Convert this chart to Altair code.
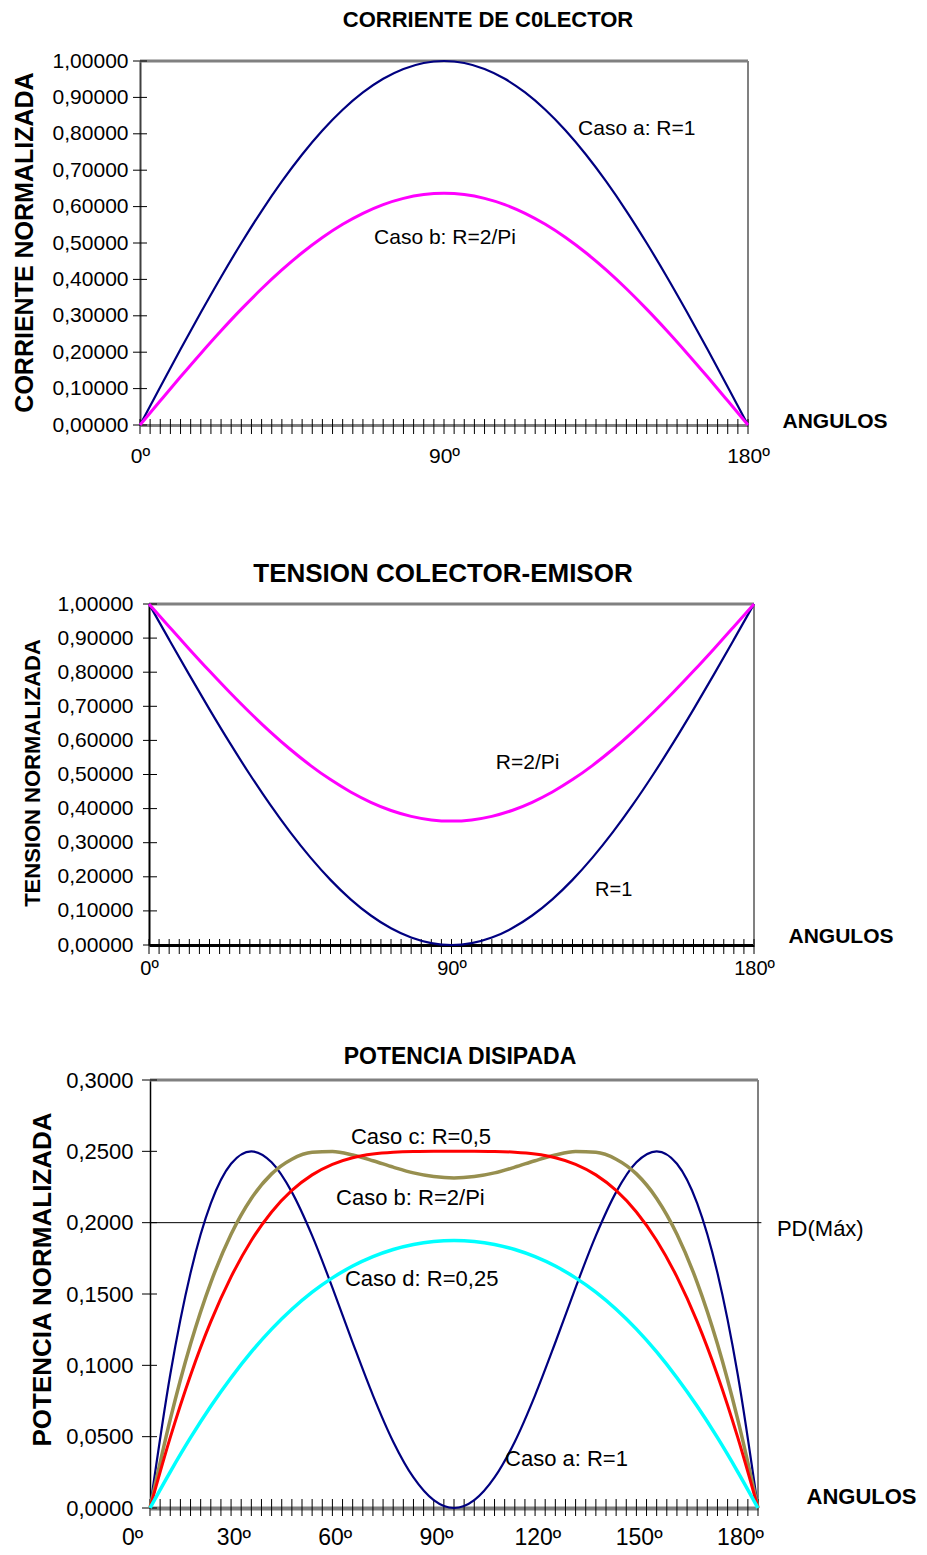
import altair as alt
import pandas as pd

FONT = "Liberation Sans, Arial, Helvetica, sans-serif"

# ---------------- data ----------------
ANG = [0, 6, 12, 18, 24, 30, 36, 42, 48, 54, 60, 66, 72, 78, 84, 90,
       96, 102, 108, 114, 120, 126, 132, 138, 144, 150, 156, 162, 168, 174, 180]

# Corriente de colector
I_R1 = [0.0000, 0.1045, 0.2079, 0.3090, 0.4067, 0.5000, 0.5878, 0.6691, 0.7431, 0.8090, 0.8660,
        0.9135, 0.9511, 0.9781, 0.9945, 1.0000, 0.9945, 0.9781, 0.9511, 0.9135, 0.8660, 0.8090,
        0.7431, 0.6691, 0.5878, 0.5000, 0.4067, 0.3090, 0.2079, 0.1045, 0.0000]
I_R2PI = [0.0000, 0.0665, 0.1324, 0.1967, 0.2589, 0.3183, 0.3742, 0.4260, 0.4731, 0.5150, 0.5513,
          0.5815, 0.6055, 0.6227, 0.6331, 0.6366, 0.6331, 0.6227, 0.6055, 0.5815, 0.5513, 0.5150,
          0.4731, 0.4260, 0.3742, 0.3183, 0.2589, 0.1967, 0.1324, 0.0665, 0.0000]

# Tension colector-emisor
V_R1 = [1.0000, 0.8955, 0.7921, 0.6910, 0.5933, 0.5000, 0.4122, 0.3309, 0.2569, 0.1910, 0.1340,
        0.0865, 0.0489, 0.0219, 0.0055, 0.0000, 0.0055, 0.0219, 0.0489, 0.0865, 0.1340, 0.1910,
        0.2569, 0.3309, 0.4122, 0.5000, 0.5933, 0.6910, 0.7921, 0.8955, 1.0000]
V_R2PI = [1.0000, 0.9335, 0.8676, 0.8033, 0.7411, 0.6817, 0.6258, 0.5740, 0.5269, 0.4850, 0.4487,
          0.4185, 0.3945, 0.3773, 0.3669, 0.3634, 0.3669, 0.3773, 0.3945, 0.4185, 0.4487, 0.4850,
          0.5269, 0.5740, 0.6258, 0.6817, 0.7411, 0.8033, 0.8676, 0.9335, 1.0000]

# Potencia disipada
P_A = [0.0000, 0.0936, 0.1647, 0.2135, 0.2413, 0.2500, 0.2423, 0.2214, 0.1909, 0.1545, 0.1160,
       0.0790, 0.0465, 0.0214, 0.0055, 0.0000, 0.0055, 0.0214, 0.0465, 0.0790, 0.1160, 0.1545,
       0.1909, 0.2214, 0.2423, 0.2500, 0.2413, 0.2135, 0.1647, 0.0936, 0.0000]
P_B = [0.0000, 0.0621, 0.1149, 0.1580, 0.1919, 0.2170, 0.2342, 0.2445, 0.2493, 0.2498, 0.2474,
       0.2434, 0.2389, 0.2349, 0.2323, 0.2313, 0.2323, 0.2349, 0.2389, 0.2434, 0.2474, 0.2498,
       0.2493, 0.2445, 0.2342, 0.2170, 0.1919, 0.1580, 0.1149, 0.0621, 0.0000]
P_C = [0.0000, 0.0495, 0.0931, 0.1306, 0.1620, 0.1875, 0.2075, 0.2226, 0.2335, 0.2409, 0.2455,
       0.2481, 0.2494, 0.2499, 0.2500, 0.2500, 0.2500, 0.2499, 0.2494, 0.2481, 0.2455, 0.2409,
       0.2335, 0.2226, 0.2075, 0.1875, 0.1620, 0.1306, 0.0931, 0.0495, 0.0000]
P_D = [0.0000, 0.0254, 0.0493, 0.0713, 0.0913, 0.1094, 0.1254, 0.1393, 0.1513, 0.1613, 0.1696,
       0.1762, 0.1812, 0.1847, 0.1868, 0.1875, 0.1868, 0.1847, 0.1812, 0.1762, 0.1696, 0.1613,
       0.1513, 0.1393, 0.1254, 0.1094, 0.0913, 0.0713, 0.0493, 0.0254, 0.0000]
PD_MAX = 0.2

# axis ticks / labels
X_MINOR = list(range(0, 181, 3))
X_LAB_12 = [0, 90, 180]
X_LAB_3 = [0, 30, 60, 90, 120, 150, 180]
Y_T12 = [0.0, 0.1, 0.2, 0.3, 0.4, 0.5, 0.6, 0.7, 0.8, 0.9, 1.0]
Y_T3 = [0.0, 0.05, 0.10, 0.15, 0.20, 0.25, 0.30]

# annotations
TXT1 = ["Caso a: R=1", "Caso b: R=2/Pi"]
TXT1_A = [129.7, 69.3]
TXT1_V = [0.813, 0.514]
TXT2 = ["R=2/Pi", "R=1"]
TXT2_A = [103.2, 132.7]
TXT2_V = [0.534, 0.161]
TXT3 = ["Caso c: R=0,5", "Caso b: R=2/Pi", "Caso d: R=0,25", "Caso a: R=1", "PD(Máx)"]
TXT3_A = [59.5, 55.1, 57.7, 105.1, 185.6]
TXT3_V = [0.260, 0.2173, 0.1605, 0.0343, 0.1955]

NAVY = "#000080"
MAGENTA = "#FF00FF"
OLIVE = "#978F4F"
RED = "#FF0000"
CYAN = "#00FFFF"
GRAY = "#808080"


def panel(xs, ys, xa, ya, series, texts, text_size, ytop, yticks, ytick_x, xtick_y,
          extra=None):
    layers = []
    # top and right frame lines
    top = pd.DataFrame({"a": [0], "a2": [180], "v": [ytop]})
    layers.append(alt.Chart(top).mark_rule(color=GRAY, strokeWidth=3).encode(
        x=alt.X("a:Q", scale=xs, axis=xa), x2="a2", y=alt.Y("v:Q", scale=ys, axis=ya)))
    right = pd.DataFrame({"a": [180], "v": [0], "v2": [ytop]})
    layers.append(alt.Chart(right).mark_rule(color=GRAY, strokeWidth=2).encode(
        x=alt.X("a:Q", scale=xs, axis=xa), y=alt.Y("v:Q", scale=ys, axis=ya), y2="v2"))
    if extra is not None:
        layers.append(extra)
    # crossing minor ticks on x
    xt = pd.DataFrame({"a": X_MINOR})
    layers.append(alt.Chart(xt).mark_rule(color="black", strokeWidth=1).encode(
        x=alt.X("a:Q", scale=xs, axis=xa), y=alt.value(xtick_y[0]), y2=alt.value(xtick_y[1])))
    # crossing ticks on y
    yt = pd.DataFrame({"v": yticks})
    layers.append(alt.Chart(yt).mark_rule(color="black", strokeWidth=1).encode(
        y=alt.Y("v:Q", scale=ys, axis=ya), x=alt.value(ytick_x[0]), x2=alt.value(ytick_x[1])))
    for vals, color, w in series:
        df = pd.DataFrame({"a": ANG, "v": vals})
        layers.append(alt.Chart(df).mark_line(color=color, strokeWidth=w,
                                              interpolate="monotone").encode(
            x=alt.X("a:Q", scale=xs, axis=xa), y=alt.Y("v:Q", scale=ys, axis=ya)))
    t, ta, tv = texts
    tdf = pd.DataFrame({"t": t, "a": ta, "v": tv, "fs": text_size})
    layers.append(alt.Chart(tdf).mark_text(align="left", baseline="middle", font=FONT,
                                           color="black").encode(
        x=alt.X("a:Q", scale=xs, axis=xa), y=alt.Y("v:Q", scale=ys, axis=ya),
        text="t:N", size=alt.Size("fs:Q", scale=None, legend=None)))
    return alt.layer(*layers)


def x_axis(values, lab_size, pad, dom_color, dom_w, tx, ty, tsize, loff=0):
    return alt.Axis(values=values, labelExpr="datum.value + 'º'", ticks=False, tickSize=0,
                    grid=False, domainColor=dom_color, domainWidth=dom_w,
                    labelFont=FONT, labelFontSize=lab_size, labelColor="black",
                    labelPadding=pad, labelFlush=False, labelOffset=loff,
                    title="ANGULOS", titleFont=FONT, titleFontSize=tsize,
                    titleFontWeight="bold", titleColor="black", titleX=tx, titleY=ty,
                    titleAlign="left", titleBaseline="middle", titleAngle=0)


def y_axis(values, fmt, lab_size, pad, dom_color, dom_w, title, tx, ty, tsize, off=0):
    return alt.Axis(values=values,
                    labelExpr="replace(format(datum.value, '" + fmt + "'), '.', ',')",
                    ticks=False, tickSize=0, grid=False, domainColor=dom_color,
                    domainWidth=dom_w, labelFont=FONT, labelFontSize=lab_size,
                    labelColor="black", labelPadding=pad, offset=off,
                    title=title, titleFont=FONT, titleFontSize=tsize, titleFontWeight="bold",
                    titleColor="black", titleX=tx, titleY=ty, titleAngle=270,
                    titleAlign="center", titleBaseline="middle")


W = 618

# ---------------- chart 1 ----------------
xs1 = alt.Scale(domain=[0, 180], range=[0, 608], nice=False)
ys1 = alt.Scale(domain=[0, 1], range=[364, 0], nice=False)
xa1 = x_axis(X_LAB_12, 21, 20, GRAY, 3, 642, -4, 21)
ya1 = y_axis(Y_T12, ".5f", 21, 12, "#404040", 2, "CORRIENTE NORMALIZADA", -116, 181, 25)
c1 = panel(xs1, ys1, xa1, ya1,
           [(I_R1, NAVY, 2.2), (I_R2PI, MAGENTA, 3)],
           (TXT1, TXT1_A, TXT1_V), [21, 21], 1.0, Y_T12, (-7, 7), (358, 373)
           ).properties(width=W, height=364,
                        title=alt.TitleParams("CORRIENTE DE C0LECTOR", font=FONT, fontSize=22,
                                              fontWeight="bold", color="black", anchor="middle",
                                              frame="group", dx=39, offset=1,
                                              baseline="alphabetic"))

# ---------------- chart 2 ----------------
xs2 = alt.Scale(domain=[0, 180], range=[9, 614], nice=False)
ys2 = alt.Scale(domain=[0, 1], range=[385, 44], nice=False)
xa2 = x_axis(X_LAB_12, 20, 13, "black", 3, 648, -9, 21)
ya2 = y_axis(Y_T12, ".5f", 21, 16, "black", 2, "TENSION NORMALIZADA", -117, 212.5, 22, off=-9)
c2 = panel(xs2, ys2, xa2, ya2,
           [(V_R1, NAVY, 2.2), (V_R2PI, MAGENTA, 3)],
           (TXT2, TXT2_A, TXT2_V), [21, 20], 1.0, Y_T12, (3, 17), (379, 394)
           ).properties(width=W, height=385,
                        title=alt.TitleParams("TENSION COLECTOR-EMISOR", font=FONT, fontSize=26,
                                              fontWeight="bold", color="black", anchor="middle",
                                              frame="group", dx=-6, offset=-48,
                                              baseline="alphabetic"))

# ---------------- chart 3 ----------------
xs3 = alt.Scale(domain=[0, 180], range=[10, 618], nice=False)
ys3 = alt.Scale(domain=[0, 0.3], range=[428, 0], nice=False)
xa3 = x_axis(X_LAB_3, 23, 18, GRAY, 4, 666, -12, 22, loff=-18)
ya3 = y_axis(Y_T3, ".4f", 22, 17, "black", 1.5, "POTENCIA NORMALIZADA", -108, 199, 26, off=-10)
pd_line = alt.Chart(pd.DataFrame({"a": [0], "a2": [181], "v": [PD_MAX]})).mark_rule(
    color="black", strokeWidth=1).encode(
    x=alt.X("a:Q", scale=xs3, axis=xa3), x2="a2", y=alt.Y("v:Q", scale=ys3, axis=ya3))
c3 = panel(xs3, ys3, xa3, ya3,
           [(P_A, NAVY, 2.2), (P_B, OLIVE, 3.5), (P_C, RED, 3), (P_D, CYAN, 3.5)],
           (TXT3, TXT3_A, TXT3_V), [22, 22, 22, 22, 22], 0.3, Y_T3, (2, 17), (419, 436),
           extra=pd_line
           ).properties(width=W, height=428,
                        title=alt.TitleParams("POTENCIA DISIPADA", font=FONT, fontSize=23,
                                              fontWeight="bold", color="black", anchor="middle",
                                              frame="group", dx=11, offset=-18,
                                              baseline="alphabetic"))

chart = alt.vconcat(c1, c2, c3, spacing=135, bounds="flush").configure_view(
    stroke="transparent").properties(
    padding={"left": 3, "top": 0, "right": 0, "bottom": 2}, background="white")

chart.save("out.html", embed_options={"renderer": "svg", "actions": False})
